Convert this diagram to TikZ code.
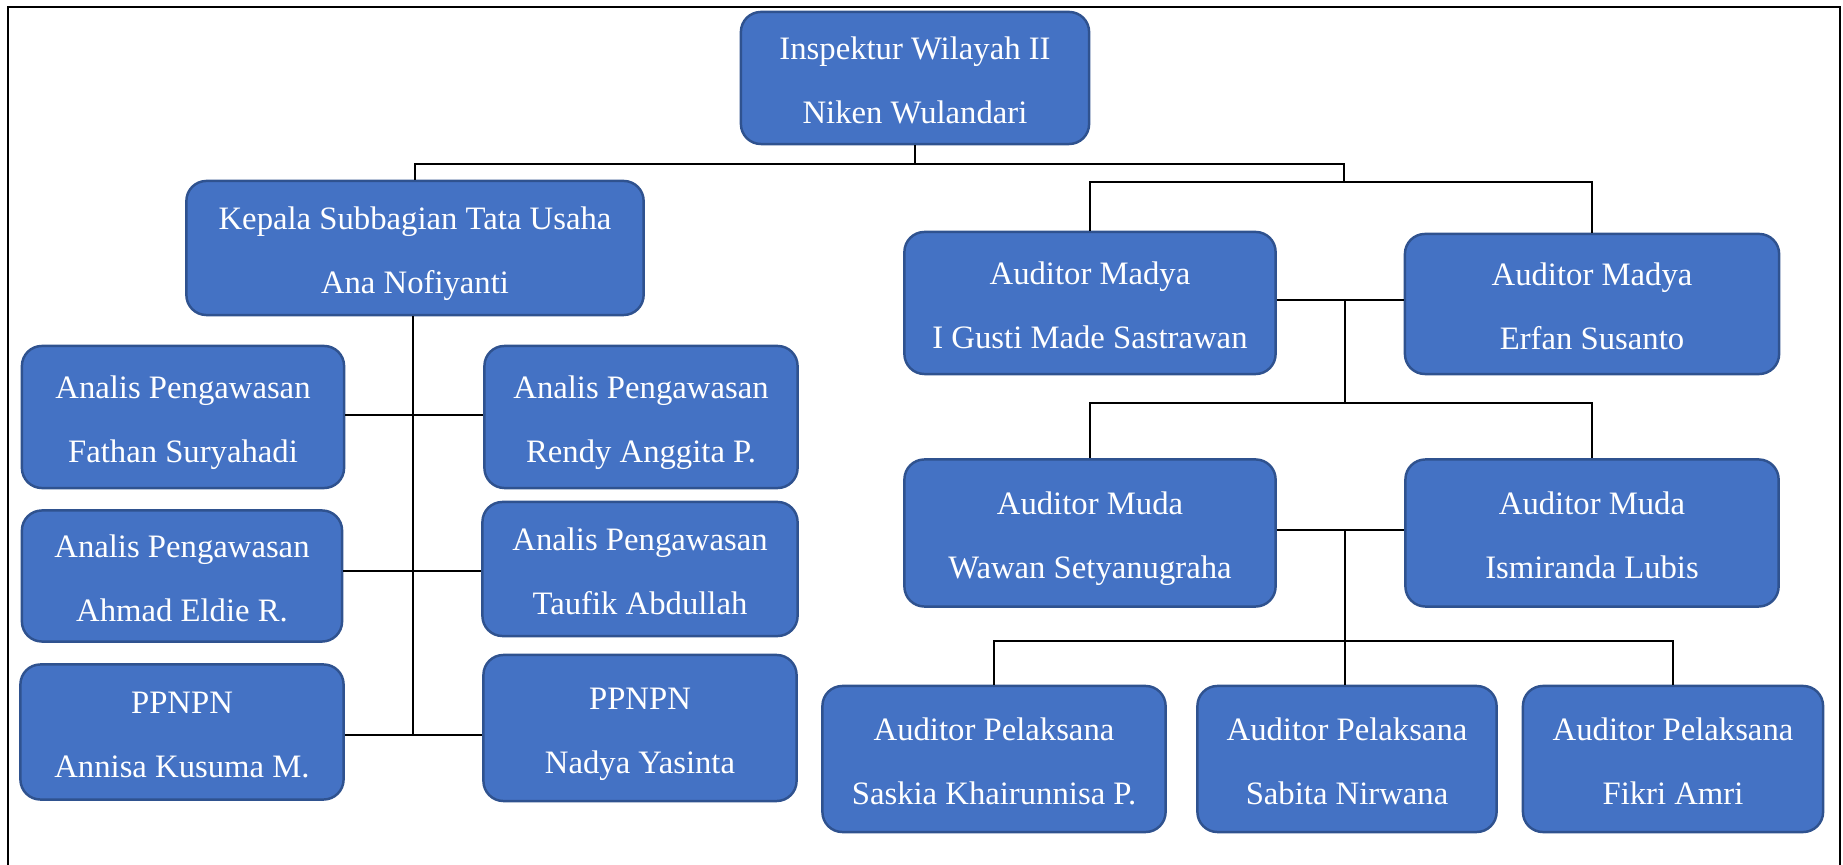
\documentclass[tikz,border=0pt]{standalone}
\usepackage{fontspec}
\setmainfont{Liberation Serif}
\usepackage{tikz}
\definecolor{boxblue}{HTML}{4472C4}
\definecolor{boxedge}{HTML}{2F528F}
\tikzset{unit/.style={rectangle, rounded corners=0.2cm, fill=boxblue, draw=boxedge, line width=0.7pt, text=white, align=center, inner sep=0pt, font=\fontsize{9.3}{18.2}\selectfont, text height=28pt, text depth=2.2pt}}
\tikzset{link/.style={black, line width=0.35pt}}

\begin{document}
\begin{tikzpicture}[x=0.01cm, y=-0.01cm]
        \useasboundingbox (0,0) rectangle (1843,865);
        \draw[line width=0.8pt] (8,870) -- (8,7) -- (1840,7) -- (1840,870);

        % Nodes
        \node[unit, minimum width=3.48cm, minimum height=1.32cm] (insp) at (915,78) {Inspektur Wilayah II\\Niken Wulandari};
        \node[unit, minimum width=4.57cm, minimum height=1.34cm] (kasub) at (415,248) {Kepala Subbagian Tata Usaha\\Ana Nofiyanti};
        \node[unit, minimum width=3.22cm, minimum height=1.42cm] (anl1) at (183,417) {Analis Pengawasan\\Fathan Suryahadi};
        \node[unit, minimum width=3.20cm, minimum height=1.31cm] (anl2) at (182,576) {Analis Pengawasan\\Ahmad Eldie R.};
        \node[unit, minimum width=3.23cm, minimum height=1.35cm] (ppn1) at (182,732) {PPNPN\\Annisa Kusuma M.};
        \node[unit, minimum width=3.13cm, minimum height=1.42cm] (anl3) at (641,417) {Analis Pengawasan\\Rendy Anggita P.};
        \node[unit, minimum width=3.15cm, minimum height=1.34cm] (anl4) at (640,569) {Analis Pengawasan\\Taufik Abdullah};
        \node[unit, minimum width=3.13cm, minimum height=1.46cm] (ppn2) at (640,728) {PPNPN\\Nadya Yasinta};
        \node[unit, minimum width=3.71cm, minimum height=1.42cm] (mady1) at (1090,303) {Auditor Madya\\I Gusti Made Sastrawan};
        \node[unit, minimum width=3.74cm, minimum height=1.40cm] (mady2) at (1592,304) {Auditor Madya\\Erfan Susanto};
        \node[unit, minimum width=3.71cm, minimum height=1.47cm] (muda1) at (1090,533) {Auditor Muda\\Wawan Setyanugraha};
        \node[unit, minimum width=3.73cm, minimum height=1.47cm] (muda2) at (1592,533) {Auditor Muda\\Ismiranda Lubis};
        \node[unit, minimum width=3.43cm, minimum height=1.46cm] (pel1) at (994,759) {Auditor Pelaksana\\Saskia Khairunnisa P.};
        \node[unit, minimum width=2.99cm, minimum height=1.46cm] (pel2) at (1347,759) {Auditor Pelaksana\\Sabita Nirwana};
        \node[unit, minimum width=3.00cm, minimum height=1.46cm] (pel3) at (1673,759) {Auditor Pelaksana\\Fikri Amri};

        % Junctions
        \coordinate (top) at (917,164);
        \coordinate (aud) at (1344,182);
        \coordinate (lbus) at (413,735);
        \coordinate (row1) at (413,415);
        \coordinate (row2) at (413,571);
        \coordinate (mad) at (1345,300);
        \coordinate (mud) at (1345,403);
        \coordinate (mudj) at (1345,530);
        \coordinate (pel) at (1345,641);

        % Edges - black
        \draw[link] (insp.south) -- (insp.south |- top) -- (kasub.north |- top) -- (kasub.north);
        \draw[link] (insp.south |- top) -- (aud |- top) -- (aud);
        \draw[link] (mady1.north) -- (mady1.north |- aud) -- (mady2.north |- aud) -- (mady2.north);
        \draw[link] (lbus |- kasub.south) -- (lbus);
        \draw[link] (anl1.east |- row1) -- (anl3.west |- row1);
        \draw[link] (anl2.east |- row2) -- (anl4.west |- row2);
        \draw[link] (ppn1.east |- lbus) -- (ppn2.west |- lbus);
        \draw[link] (mady1.east |- mad) -- (mady2.west |- mad);
        \draw[link] (mad) -- (mud);
        \draw[link] (muda1.north) -- (muda1.north |- mud) -- (muda2.north |- mud) -- (muda2.north);
        \draw[link] (muda1.east |- mudj) -- (muda2.west |- mudj);
        \draw[link] (mudj) -- (mudj |- pel2.north);
        \draw[link] (pel1.north) -- (pel1.north |- pel) -- (pel3.north |- pel) -- (pel3.north);
      \end{tikzpicture}
\end{document}
